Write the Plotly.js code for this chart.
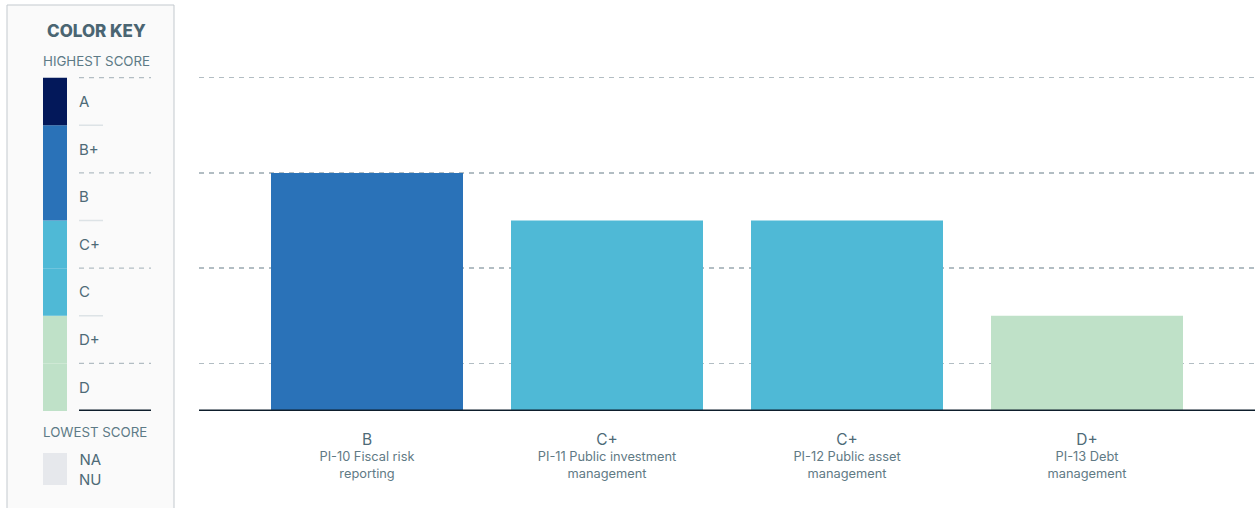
<!DOCTYPE html>
<html>
<head>
<meta charset="utf-8">
<script src="https://cdn.plot.ly/plotly-3.0.1.min.js"></script>
<style>html,body{margin:0;padding:0;background:#fff;}#chart{width:1255px;height:508px;}</style>
</head>
<body>
<div id="chart"></div>
<script>
// ---- data ----
const indicators = ['PI-10 Fiscal risk<br>reporting', 'PI-11 Public investment<br>management', 'PI-12 Public asset<br>management', 'PI-13 Debt<br>management'];
const scores = ['B', 'C+', 'C+', 'D+'];
const gradeScale = ['D', 'D+', 'C', 'C+', 'B', 'B+', 'A'];          // value = position + 1
const gradeColors = ['#bfe1c8', '#bfe1c8', '#4fb9d6', '#4fb9d6', '#2a72b8', '#2a72b8', '#03185a'];
const gridGrades = ['D', 'C', 'B', 'A'];
const lowestLabels = ['NA', 'NU'];

const textColor = '#4e6a77';
const FONT = 'Inter, sans-serif';
const val = g => gradeScale.indexOf(g) + 1;
const W = 1255, T = 30, B = 97, H = 508 - T - B;
const px = p => p / W;                 // page x pixel -> paper x
const py = p => (508 - B - p) / H;     // page y pixel -> paper y

const xs = indicators.map((_, i) => i);
const trace = {
  type: 'bar', x: xs, y: scores.map(val),
  marker: {color: scores.map(s => gradeColors[gradeScale.indexOf(s)]), line: {width: 0}},
  hoverinfo: 'skip', width: 0.8
};

const shapes = [];
const annotations = [];
// legend panel
shapes.push({type: 'rect', xref: 'paper', yref: 'paper', x0: px(7), x1: px(174), y0: py(520), y1: py(5),
  fillcolor: '#fafafa', line: {color: '#c3c9ce', width: 1}, layer: 'below'});
// colour bands + labels
gradeScale.forEach((g, i) => {
  shapes.push({type: 'rect', xref: 'paper', yref: 'y', x0: px(43), x1: px(67), y0: i, y1: i + 1,
    fillcolor: gradeColors[i], line: {width: 0}});
  annotations.push({xref: 'paper', yref: 'y', x: px(77), y: i + 0.5, text: g, showarrow: false,
    xanchor: 'left', yanchor: 'middle', font: {family: FONT, size: 15, color: textColor}});
});
// legend separators
for (let v = 1; v <= 7; v++) {
  if (v % 2 === 1) {
    shapes.push({type: 'line', xref: 'paper', yref: 'y', x0: px(79), x1: px(151), y0: v, y1: v,
      line: {color: '#b2bdc3', width: 1.3, dash: '5px,5px'}});
  } else {
    shapes.push({type: 'line', xref: 'paper', yref: 'y', x0: px(79), x1: px(103), y0: v, y1: v,
      line: {color: '#dde3e6', width: 1.5}});
  }
}
shapes.push({type: 'line', xref: 'paper', yref: 'y', x0: px(79), x1: px(151), y0: 0, y1: 0,
  line: {color: '#0e1e2c', width: 3}});
// NA/NU box
shapes.push({type: 'rect', xref: 'paper', yref: 'paper', x0: px(43), x1: px(67), y0: py(485), y1: py(453),
  fillcolor: '#e6e8ec', line: {width: 0}});
// main baseline
shapes.push({type: 'line', xref: 'x', yref: 'y', x0: -0.7, x1: 3.7, y0: 0, y1: 0,
  line: {color: '#0e1e2c', width: 3}});

annotations.push({xref: 'paper', yref: 'paper', x: px(96), y: py(31), text: 'COLOR KEY', showarrow: false,
  xanchor: 'center', yanchor: 'middle', font: {family: FONT, size: 17, weight: 800, color: '#4a6572'}});
annotations.push({xref: 'paper', yref: 'paper', x: px(41), y: py(61), text: 'HIGHEST SCORE', showarrow: false,
  xanchor: 'left', yanchor: 'middle', font: {family: FONT, size: 13.3, color: '#5d7a86'}});
annotations.push({xref: 'paper', yref: 'paper', x: px(41), y: py(432), text: 'LOWEST SCORE', showarrow: false,
  xanchor: 'left', yanchor: 'middle', font: {family: FONT, size: 13.3, color: '#5d7a86'}});
annotations.push({xref: 'paper', yref: 'paper', x: px(77), y: py(469), text: lowestLabels.join('<br>'), showarrow: false,
  xanchor: 'left', yanchor: 'middle', font: {family: FONT, size: 15, color: textColor}});

const ticktext = indicators.map((n, i) => '<span style="font-size:15.5px;color:#4e6a77">' + scores[i] + '</span><br>' + n);

const layout = {
  width: 1255, height: 508,
  margin: {l: 0, r: 0, t: T, b: B, pad: 0},
  paper_bgcolor: '#ffffff', plot_bgcolor: '#ffffff',
  showlegend: false, bargap: 0.2,
  xaxis: {domain: [px(199), 1], range: [-0.7, 3.7], tickvals: xs, ticktext: ticktext,
    showgrid: false, zeroline: false, showline: false, ticks: '', ticklabelstandoff: 20,
    tickfont: {family: FONT, size: 12.8, color: '#5f7a85'}, fixedrange: true},
  yaxis: {range: [0, 8], tickvals: gridGrades.map(val), showticklabels: false, ticks: '',
    showgrid: true, gridcolor: '#b2bdc3', gridwidth: 1.3, griddash: '5px,5px', zeroline: false, showline: false, fixedrange: true},
  shapes: shapes, annotations: annotations
};

Plotly.newPlot('chart', [trace], layout, {displayModeBar: false, staticPlot: true});
</script>
</body>
</html>
